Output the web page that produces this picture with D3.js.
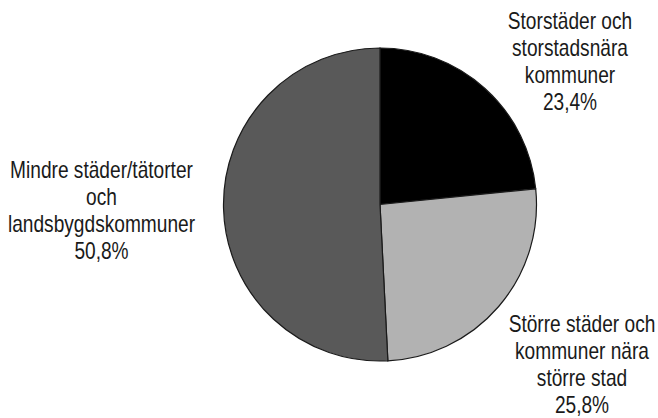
<!DOCTYPE html>
<html><head><meta charset="utf-8">
<script src="https://cdn.jsdelivr.net/npm/d3@7"></script>
<style>body{margin:0;background:#fff}</style>
</head><body>
<svg id="c" width="658" height="418"></svg>
<script>
const categories = [
  ["Storstäder och", "storstadsnära", "kommuner"],
  ["Större städer och", "kommuner nära", "större stad"],
  ["Mindre städer/tätorter", "och", "landsbygdskommuner"]
];
const values = [23.4, 25.8, 50.8];
const valueLabels = ["23,4%", "25,8%", "50,8%"];
const colors = ["#000000", "#b2b2b2", "#595959"];

const svg = d3.select("#c");
const cx = 380, cy = 204.5, r = 156.5;
const labelPos = [[570, 29.5], [582, 332], [101.5, 178]];
const lineH = 27;

const pie = d3.pie().sort(null)(values);
const arc = d3.arc().innerRadius(0).outerRadius(r);
const g = svg.append("g").attr("transform", `translate(${cx},${cy})`);
g.selectAll("path").data(pie).join("path")
  .attr("d", arc)
  .attr("fill", (d, i) => colors[i])
  .attr("stroke", "#1a1a1a").attr("stroke-width", 1.2);

const font = "'Liberation Sans', Arial, sans-serif";
const groups = [];
categories.forEach((lines, i) => {
  const lg = svg.append("g");
  const t = lg.append("text")
    .attr("x", 0).attr("y", labelPos[i][1])
    .attr("text-anchor", "middle")
    .attr("font-family", font).attr("font-size", 23).attr("fill", "#1a1a1a");
  lines.concat([valueLabels[i]]).forEach((l, j) => {
    t.append("tspan").attr("x", 0).attr("dy", j === 0 ? 0 : lineH).text(l);
  });
  groups.push({lg, t, i});
});
// condense font horizontally: match reference width of the widest left line (~183px)
const ref = groups[2].t.select("tspan").node().getComputedTextLength();
const sx = 183 / ref;
groups.forEach(({lg, i}) => lg.attr("transform", `translate(${labelPos[i][0]},0) scale(${sx},1)`));
</script>
</body></html>
